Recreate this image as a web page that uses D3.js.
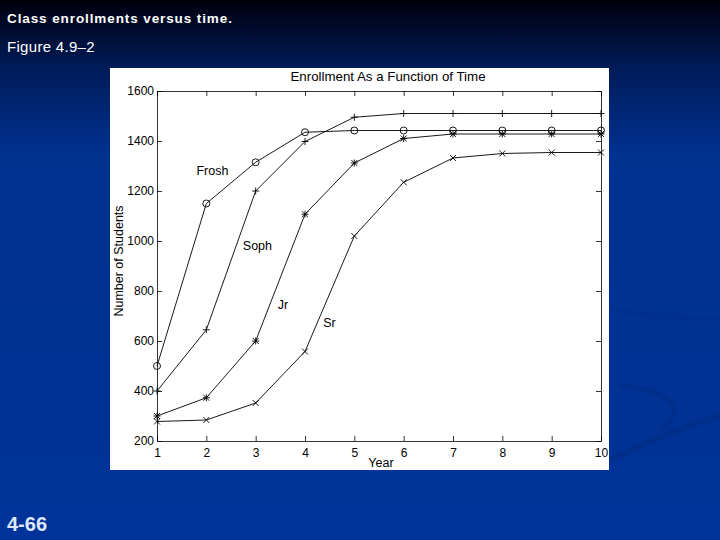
<!DOCTYPE html>
<html lang="en">
<head>
  <meta charset="UTF-8">
  <title>Class enrollments versus time</title>
  <style>
    body {
      margin: 0;
      padding: 0;
      overflow: hidden;
      font-family: "Liberation Sans", Arial, sans-serif;
    }
    svg { display: block; }
    .axis text {
      font-family: "Liberation Sans", Arial, sans-serif;
      font-size: 12px;
      fill: #000;
    }
    .axis path, .axis line { stroke: #000; stroke-width: 0.8; }
  </style>
</head>
<body>
  <svg id="chart" width="720" height="540"></svg>

  <script src="https://d3js.org/d3.v7.min.js"></script>
  <script>
    const years = [1, 2, 3, 4, 5, 6, 7, 8, 9, 10];
    const frosh = [500, 1150, 1315, 1435, 1442, 1442, 1442, 1442, 1442, 1442];
    const soph  = [400, 645, 1200, 1398, 1495, 1510, 1510, 1510, 1510, 1510];
    const jr    = [300, 373, 600, 1107, 1312, 1410, 1428, 1428, 1428, 1428];
    const sr    = [278, 284, 352, 558, 1020, 1235, 1332, 1350, 1354, 1354];
    const yTicks = [200, 400, 600, 800, 1000, 1200, 1400, 1600];

    // label anchors in data units (year, students)
    const series = [
      { name: "Frosh", values: frosh, marker: "circle", label: [1.80, 1266] },
      { name: "Soph",  values: soph,  marker: "plus",   label: [2.74, 966] },
      { name: "Jr",    values: jr,    marker: "star",   label: [3.45, 730] },
      { name: "Sr",    values: sr,    marker: "cross",  label: [4.37, 656] }
    ];

    const svg = d3.select("#chart");

    // slide background
    const defs = svg.append("defs");
    const grad = defs.append("linearGradient")
      .attr("id", "bg").attr("x1", 0).attr("y1", 0).attr("x2", 0).attr("y2", 1);
    grad.append("stop").attr("offset", "0%").attr("stop-color", "#00000c");
    grad.append("stop").attr("offset", "12%").attr("stop-color", "#001a55");
    grad.append("stop").attr("offset", "28%").attr("stop-color", "#00318f");
    grad.append("stop").attr("offset", "100%").attr("stop-color", "#003399");
    svg.append("rect").attr("width", 720).attr("height", 540).attr("fill", "url(#bg)");

    // faint swooshes on the right
    svg.append("path")
      .attr("d", "M610,460 C650,440 690,425 720,415")
      .attr("fill", "none").attr("stroke", "#002c86").attr("stroke-width", 6).attr("opacity", 0.7);
    svg.append("path")
      .attr("d", "M620,385 C670,390 690,410 660,430")
      .attr("fill", "none").attr("stroke", "#002c86").attr("stroke-width", 5).attr("opacity", 0.6);
    svg.append("path")
      .attr("d", "M610,310 C650,315 690,320 720,318")
      .attr("fill", "none").attr("stroke", "#002e8c").attr("stroke-width", 5).attr("opacity", 0.5);

    // slide text
    svg.append("text").attr("x", 7).attr("y", 23)
      .attr("fill", "#fff").attr("font-weight", "bold").attr("font-size", 13.5)
      .attr("letter-spacing", 0.9)
      .text("Class enrollments versus time.");
    svg.append("text").attr("x", 7).attr("y", 52)
      .attr("fill", "#fff").attr("font-size", 15).attr("letter-spacing", 0.3)
      .text("Figure 4.9–2");
    svg.append("text").attr("x", 7).attr("y", 531)
      .attr("fill", "#dce8ff").attr("font-weight", "bold").attr("font-size", 20)
      .text("4-66");

    // figure panel
    svg.append("rect").attr("x", 110).attr("y", 68).attr("width", 499).attr("height", 402)
      .attr("fill", "#fff");

    const margin = { left: 157, right: 601, top: 91, bottom: 441 };
    const x = d3.scaleLinear().domain([1, 10]).range([margin.left, margin.right]);
    const y = d3.scaleLinear().domain([200, 1600]).range([margin.bottom, margin.top]);

    const tickLen = 5;
    svg.append("g").attr("class", "axis")
      .attr("transform", `translate(0,${margin.bottom})`)
      .call(d3.axisBottom(x).tickValues(years).tickFormat(d3.format("d"))
        .tickSizeInner(-tickLen).tickSizeOuter(0).tickPadding(7));
    svg.append("g").attr("class", "axis")
      .attr("transform", `translate(0,${margin.top})`)
      .call(d3.axisTop(x).tickValues(years).tickFormat("")
        .tickSizeInner(-tickLen).tickSizeOuter(0));
    svg.append("g").attr("class", "axis")
      .attr("transform", `translate(${margin.left},0)`)
      .call(d3.axisLeft(y).tickValues(yTicks).tickFormat(d3.format("d"))
        .tickSizeInner(-tickLen).tickSizeOuter(0).tickPadding(3));
    svg.append("g").attr("class", "axis")
      .attr("transform", `translate(${margin.right},0)`)
      .call(d3.axisRight(y).tickValues(yTicks).tickFormat("")
        .tickSizeInner(-tickLen).tickSizeOuter(0));

    svg.selectAll(".axis text").attr("font-size", 12.3);

    // axis titles
    svg.append("text").attr("x", 388).attr("y", 81)
      .attr("text-anchor", "middle").attr("font-size", 13.3)
      .text("Enrollment As a Function of Time");
    svg.append("text").attr("x", 381).attr("y", 467)
      .attr("text-anchor", "middle").attr("font-size", 12.5)
      .text("Year");
    svg.append("text")
      .attr("transform", `translate(123,261) rotate(-90)`)
      .attr("text-anchor", "middle").attr("font-size", 12.5)
      .text("Number of Students");

    // lines
    const line = d3.line().x((d, i) => x(years[i])).y(d => y(d));
    const plot = svg.append("g");

    series.forEach(s => {
      plot.append("path")
        .attr("d", line(s.values))
        .attr("fill", "none").attr("stroke", "#000").attr("stroke-width", 0.9);

      const g = plot.append("g");
      s.values.forEach((v, i) => {
        const cx = x(years[i]), cy = y(v), r = 3.5;
        if (s.marker === "circle") {
          g.append("circle").attr("cx", cx).attr("cy", cy).attr("r", r)
            .attr("fill", "none").attr("stroke", "#000").attr("stroke-width", 0.9);
        } else {
          let d = "";
          if (s.marker === "plus" || s.marker === "star") {
            d += `M${cx - r},${cy}H${cx + r}M${cx},${cy - r}V${cy + r}`;
          }
          if (s.marker === "cross" || s.marker === "star") {
            const k = r * 0.85;
            d += `M${cx - k},${cy - k}L${cx + k},${cy + k}M${cx - k},${cy + k}L${cx + k},${cy - k}`;
          }
          g.append("path").attr("d", d).attr("stroke", "#000").attr("stroke-width", 0.9);
        }
      });

      plot.append("text")
        .attr("x", x(s.label[0])).attr("y", y(s.label[1]))
        .attr("font-size", 12.5)
        .text(s.name);
    });
  </script>
</body>
</html>
